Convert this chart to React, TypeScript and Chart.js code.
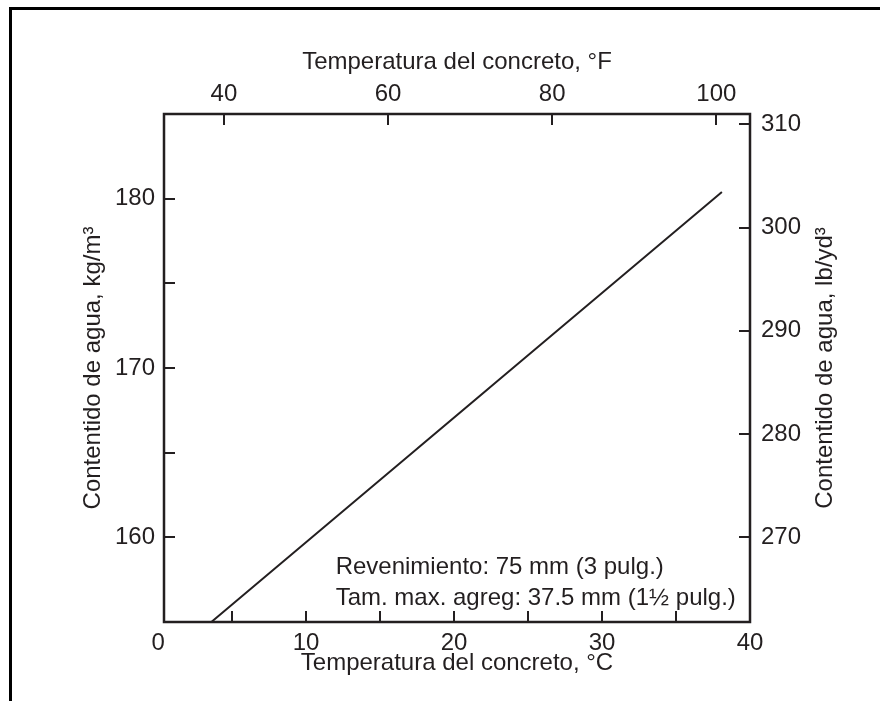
import React, { useEffect, useRef } from 'react';
import { Chart, registerables } from 'chart.js';

Chart.register(...registerables);

// ---- data ----
const tempC = [3.6, 38.1];
const waterKg = [155, 180.4];

// ---- axes ----
const rangeC = [0.4, 40];
const rangeF = [32.7, 104.1];
const rangeKg = [155, 185];
const rangeLb = [261.8, 311];

const bottomTicks = [0, 5, 10, 15, 20, 25, 30, 35, 40];
const bottomLabels = ['0', '', '10', '', '20', '', '30', '', '40'];
const topTicks = [40, 60, 80, 100];
const topLabels = ['40', '60', '80', '100'];
const leftTicks = [155, 160, 165, 170, 175, 180, 185];
const leftLabels = ['', '160', '', '170', '', '180', ''];
const rightTicks = [270, 280, 290, 300, 310];
const rightLabels = ['270', '280', '290', '300', '310'];

const bottomTitle = 'Temperatura del concreto, °C';
const topTitle = 'Temperatura del concreto, °F';
const leftTitle = 'Contentido de agua, kg/m³';
const rightTitle = 'Contentido de agua, lb/yd³';
const notes = ['Revenimiento: 75 mm (3 pulg.)', 'Tam. max. agreg: 37.5 mm (1½ pulg.)'];

const INK = '#231f20';
const FAMILY = '"Liberation Sans", Arial, Helvetica, sans-serif';
const FONT = { family: FAMILY, size: 24, lineHeight: 1.2 };

const labelFor = (ticks: number[], labels: string[]) => (v: number | string) => {
  const i = ticks.indexOf(Number(v));
  return i >= 0 ? labels[i] : '';
};

const setTicks = (ticks: number[]) => (s: any) => {
  s.ticks = ticks.map((v) => ({ value: v }));
};

const inRangeColor = (range: number[]) => (c: any) => {
  const v = c && c.tick ? c.tick.value : range[0];
  return v < range[0] - 1e-9 || v > range[1] + 1e-9 ? 'rgba(0,0,0,0)' : INK;
};

const overlay = {
  id: 'overlay',
  afterDraw(chart: any) {
    const { ctx, chartArea, scales } = chart;
    ctx.save();
    ctx.strokeStyle = INK;
    ctx.lineWidth = 2.5;
    ctx.strokeRect(chartArea.left, chartArea.top, chartArea.right - chartArea.left, chartArea.bottom - chartArea.top);

    ctx.fillStyle = INK;
    ctx.font = `24px ${FAMILY}`;
    // right axis title, reading bottom to top
    const y2 = scales.y2;
    ctx.save();
    ctx.translate(y2.right - 55, (y2.top + y2.bottom) / 2);
    ctx.rotate(-Math.PI / 2);
    ctx.textAlign = 'center';
    ctx.textBaseline = 'middle';
    ctx.fillText(rightTitle, 0, 0);
    ctx.restore();

    // notes
    const xs = scales.x;
    const ys = scales.y;
    ctx.textAlign = 'left';
    ctx.textBaseline = 'middle';
    const nx = xs.getPixelForValue(12);
    ctx.fillText(notes[0], nx, ys.getPixelForValue(158.25));
    ctx.fillText(notes[1], nx, ys.getPixelForValue(156.4));
    ctx.restore();
  },
};

export default function App() {
  const ref = useRef<HTMLCanvasElement | null>(null);

  useEffect(() => {
    if (!ref.current) return;
    const gridFor = (range: number[]) => ({
      drawOnChartArea: false,
      drawTicks: true,
      tickLength: -11,
      lineWidth: 2,
      color: inRangeColor(range),
    });
    const chart = new Chart(ref.current, {
      type: 'scatter',
      data: {
        datasets: [
          {
            data: tempC.map((x, i) => ({ x, y: waterKg[i] })),
            showLine: true,
            borderColor: INK,
            borderWidth: 2,
            pointRadius: 0,
            xAxisID: 'x',
            yAxisID: 'y',
          },
        ],
      },
      options: {
        responsive: false,
        animation: false,
        devicePixelRatio: 1,
        layout: { padding: 0 },
        plugins: { legend: { display: false }, tooltip: { enabled: false } },
        scales: {
          x: {
            type: 'linear',
            position: 'bottom',
            bounds: 'data',
            min: rangeC[0],
            max: rangeC[1],
            afterBuildTicks: setTicks(bottomTicks),
            afterFit: (s: any) => { s.height = 79; },
            grid: gridFor(rangeC),
            border: { display: false },
            ticks: { autoSkip: false, maxRotation: 0, padding: 18, font: FONT, color: INK, callback: labelFor(bottomTicks, bottomLabels) },
            title: { display: true, text: bottomTitle, font: FONT, color: INK, padding: { top: 0, bottom: 23 } },
          },
          x2: {
            type: 'linear',
            position: 'top',
            bounds: 'data',
            min: rangeF[0],
            max: rangeF[1],
            afterBuildTicks: setTicks(topTicks),
            afterFit: (s: any) => { s.height = 114; },
            grid: gridFor(rangeF),
            border: { display: false },
            ticks: { autoSkip: false, maxRotation: 0, padding: 16, font: FONT, color: INK, callback: labelFor(topTicks, topLabels) },
            title: { display: true, text: topTitle, font: FONT, color: INK, padding: { top: 48, bottom: 0 } },
          },
          y: {
            type: 'linear',
            position: 'left',
            bounds: 'data',
            min: rangeKg[0],
            max: rangeKg[1],
            afterBuildTicks: setTicks(leftTicks),
            afterFit: (s: any) => { s.width = 164; },
            grid: gridFor(rangeKg),
            border: { display: false },
            ticks: { autoSkip: false, padding: 20, font: FONT, color: INK, callback: labelFor(leftTicks, leftLabels) },
            title: { display: true, text: leftTitle, font: FONT, color: INK, padding: { top: 79, bottom: 0 } },
          },
          y2: {
            type: 'linear',
            position: 'right',
            bounds: 'data',
            min: rangeLb[0],
            max: rangeLb[1],
            afterBuildTicks: setTicks(rightTicks),
            afterFit: (s: any) => { s.width = 130; },
            grid: gridFor(rangeLb),
            border: { display: false },
            ticks: { autoSkip: false, padding: 22, font: FONT, color: INK, callback: labelFor(rightTicks, rightLabels) },
            title: { display: false },
          },
        },
      },
      plugins: [overlay],
    } as any);
    return () => chart.destroy();
  }, []);

  return (
    <>
      <div
        style={{
          position: 'fixed',
          left: 9,
          top: 7,
          width: 871,
          height: 694,
          borderTop: '3px solid #000',
          borderLeft: '3px solid #000',
          boxSizing: 'border-box',
        }}
      />
      <canvas
        ref={ref}
        width={880}
        height={701}
        style={{ position: 'fixed', left: 0, top: 0, width: 880, height: 701, display: 'block' }}
      />
    </>
  );
}
